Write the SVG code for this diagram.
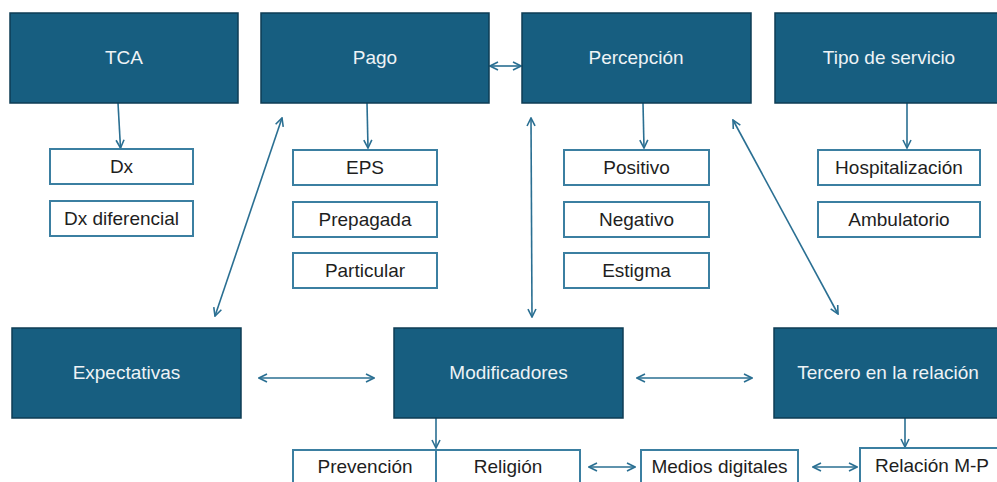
<svg xmlns="http://www.w3.org/2000/svg" width="997" height="482" viewBox="0 0 997 482">
<style>
.dk{fill:#175e80;stroke:#0e3d54;stroke-width:1.5}
.wb{fill:#fff;stroke:#3b7fa1;stroke-width:2}
.tw{font-family:"Liberation Sans",Arial,sans-serif;font-size:19px;fill:#eef3f6;text-anchor:middle}
.tb{font-family:"Liberation Sans",Arial,sans-serif;font-size:19px;fill:#1e1e1e;text-anchor:middle}
.c{stroke:#2a6f92;stroke-width:1.6;fill:none}
</style>
<defs>
<marker id="ah" viewBox="0 0 10 10" refX="9" refY="5" markerWidth="10" markerHeight="10" markerUnits="userSpaceOnUse" orient="auto-start-reverse">
<path d="M1,1 L9,5 L1,9" fill="none" stroke="#2a6f92" stroke-width="1.6"/>
</marker>
</defs>
<g id="connectors">
<path class="c" d="M118,103 L120.5,148" marker-end="url(#ah)"/>
<path class="c" d="M367,103 L368,148" marker-end="url(#ah)"/>
<path class="c" d="M643,103 L644,148" marker-end="url(#ah)"/>
<path class="c" d="M907,103 L907,148" marker-end="url(#ah)"/>
<path class="c" d="M490,66 L521,66" marker-start="url(#ah)" marker-end="url(#ah)"/>
<path class="c" d="M215,316 L282,118" marker-start="url(#ah)" marker-end="url(#ah)"/>
<path class="c" d="M531,118 L532,317" marker-start="url(#ah)" marker-end="url(#ah)"/>
<path class="c" d="M733,120 L838,314" marker-start="url(#ah)" marker-end="url(#ah)"/>
<path class="c" d="M259,378 L374,378" marker-start="url(#ah)" marker-end="url(#ah)"/>
<path class="c" d="M637,378 L752,378" marker-start="url(#ah)" marker-end="url(#ah)"/>
<path class="c" d="M436,418 L436,448" marker-end="url(#ah)"/>
<path class="c" d="M905,418 L905,447" marker-end="url(#ah)"/>
<path class="c" d="M589,467 L635,467" marker-start="url(#ah)" marker-end="url(#ah)"/>
<path class="c" d="M813,467 L857,467" marker-start="url(#ah)" marker-end="url(#ah)"/>
</g>
<g id="tca"><rect class="dk" x="10" y="13" width="228" height="90"/><text class="tw" x="124" y="64">TCA</text></g>
<g id="pago"><rect class="dk" x="261" y="13" width="228" height="90"/><text class="tw" x="375" y="64">Pago</text></g>
<g id="percepcion"><rect class="dk" x="522" y="13" width="229" height="90"/><text class="tw" x="636" y="64">Percepción</text></g>
<g id="tipo"><rect class="dk" x="775" y="13" width="229" height="90"/><text class="tw" x="889" y="64">Tipo de servicio</text></g>
<g id="dx"><rect class="wb" x="50" y="149" width="143" height="35"/><text class="tb" x="121.5" y="173">Dx</text></g>
<g id="dxdif"><rect class="wb" x="50" y="201" width="143" height="35"/><text class="tb" x="121.5" y="225">Dx diferencial</text></g>
<g id="eps"><rect class="wb" x="293" y="150" width="144" height="35"/><text class="tb" x="365" y="174">EPS</text></g>
<g id="prepagada"><rect class="wb" x="293" y="202" width="144" height="35"/><text class="tb" x="365" y="226">Prepagada</text></g>
<g id="particular"><rect class="wb" x="293" y="253" width="144" height="35"/><text class="tb" x="365" y="277">Particular</text></g>
<g id="positivo"><rect class="wb" x="564" y="150" width="145" height="35"/><text class="tb" x="636.5" y="174">Positivo</text></g>
<g id="negativo"><rect class="wb" x="564" y="202" width="145" height="35"/><text class="tb" x="636.5" y="226">Negativo</text></g>
<g id="estigma"><rect class="wb" x="564" y="253" width="145" height="35"/><text class="tb" x="636.5" y="277">Estigma</text></g>
<g id="hosp"><rect class="wb" x="818" y="150" width="162" height="35"/><text class="tb" x="899" y="174">Hospitalización</text></g>
<g id="amb"><rect class="wb" x="818" y="202" width="162" height="35"/><text class="tb" x="899" y="226">Ambulatorio</text></g>
<g id="expectativas"><rect class="dk" x="12" y="328" width="229" height="90"/><text class="tw" x="126.5" y="379">Expectativas</text></g>
<g id="modificadores"><rect class="dk" x="394" y="328" width="229" height="90"/><text class="tw" x="508.5" y="379">Modificadores</text></g>
<g id="tercero"><rect class="dk" x="774" y="328" width="229" height="90"/><text class="tw" x="888" y="379">Tercero en la relación</text></g>
<g id="prevencion"><rect class="wb" x="293" y="450" width="143" height="40"/><text class="tb" x="365" y="473">Prevención</text></g>
<g id="religion"><rect class="wb" x="436" y="450" width="144" height="40"/><text class="tb" x="508" y="473">Religión</text></g>
<g id="medios"><rect class="wb" x="641" y="450" width="157" height="40"/><text class="tb" x="719.5" y="473">Medios digitales</text></g>
<g id="relacion"><rect class="wb" x="860" y="448" width="150" height="40"/><text class="tb" x="932" y="472">Relación M-P</text></g>
</svg>
